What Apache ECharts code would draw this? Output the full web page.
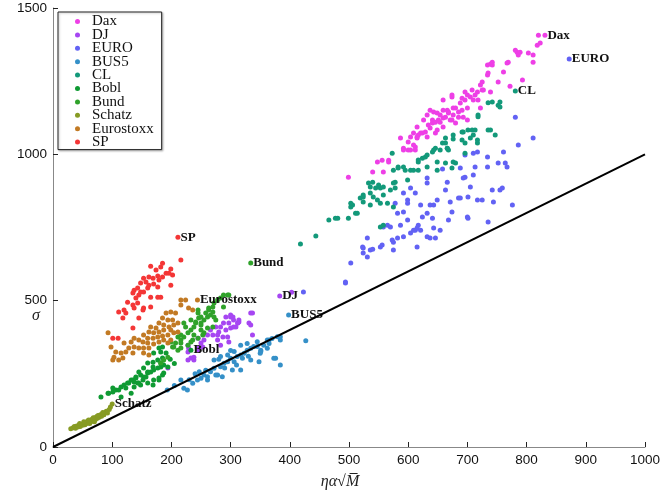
<!DOCTYPE html>
<html><head><meta charset="utf-8">
<script src="https://cdn.jsdelivr.net/npm/echarts@6/dist/echarts.min.js"></script>
<style>html,body{margin:0;padding:0;background:#fff}#c{width:663px;height:496px}</style>
</head><body><div id="c"></div>
<script>
const seriesNames = ['Dax','DJ','EURO','BUS5','CL','Bobl','Bund','Schatz','Eurostoxx','SP'];
const xTicks = [0,100,200,300,400,500,600,700,800,900,1000];
const yTicks = [0,500,1000,1500];
const diagonal = [[0,0],[1000,1000]];

// first point of each series carries the series label
const dax = [[831,1407],[499,922],[540,940],[558,940],[548,974],[556,980],[567,974],[567,980],[592,1021],[612,1025],[612,1015],[592,1015],[600,1015],[600,1042],[609,1032],[615,1059],[621,1073],[617,1066],[624,1073],[609,1073],[632,1059],[604,1059],[615,1056],[587,1056],[604,1015],[629,1076],[634,1100],[641,1107],[637,1151],[643,1145],[649,1141],[654,1134],[641,1117],[646,1110],[651,1117],[659,1151],[663,1127],[668,1145],[671,1117],[676,1134],[637,1090],[649,1083],[659,1093],[646,1073],[654,1110],[659,1124],[666,1151],[668,1141],[674,1117],[676,1158],[680,1107],[685,1127],[680,1158],[685,1145],[691,1151],[693,1127],[700,1117],[688,1175],[696,1186],[700,1203],[705,1196],[710,1186],[659,1186],[674,1196],[691,1192],[700,1158],[722,1158],[674,1203],[696,1213],[708,1220],[713,1203],[718,1186],[717,1213],[725,1220],[722,1237],[739,1213],[725,1247],[727,1220],[734,1271],[735,1278],[752,1247],[772,1233],[793,1254],[761,1281],[734,1305],[742,1305],[739,1309],[742,1315],[767,1312],[769,1315],[784,1349],[786,1339],[781,1356],[789,1349],[803,1346],[811,1339],[811,1315],[818,1373],[823,1380],[820,1407],[626,1117],[632,1134],[615,1093]];
const dj = [[383,516],[403,529],[292,444],[300,444],[305,434],[297,424],[288,424],[283,410],[275,410],[266,400],[280,393],[292,400],[300,407],[309,410],[312,424],[314,427],[261,383],[270,383],[278,383],[287,376],[295,376],[255,366],[250,355],[245,372],[253,342],[246,331],[297,359],[283,348],[278,366],[238,307],[233,304],[228,297],[334,458],[331,424],[194,270],[228,348],[229,338],[337,458],[334,417],[337,383],[314,434],[312,424],[305,410],[300,451],[304,444],[238,297],[228,325],[246,338]];
const euro = [[872,1326],[423,530],[494,560],[494,564],[503,629],[524,680],[536,673],[553,683],[575,673],[531,714],[573,707],[582,799],[592,803],[599,776],[612,741],[617,758],[624,786],[632,799],[637,827],[643,748],[654,741],[663,878],[671,837],[685,851],[696,922],[705,888],[710,929],[713,957],[717,844],[725,844],[735,769],[744,837],[742,878],[759,885],[761,1008],[781,1127],[786,1032],[811,1056],[776,827],[734,957],[734,991],[764,970],[767,957],[696,998],[710,1004],[632,902],[599,844],[621,827],[649,844],[604,885],[612,868],[558,752],[565,758],[582,714],[592,718],[604,731],[615,748],[632,718],[637,714],[524,663],[531,649],[587,758],[668,776],[700,786],[523,683],[540,676],[556,690],[575,700],[570,752],[599,833],[592,868],[621,741],[609,741],[615,683],[641,782],[646,714],[643,827],[666,905],[674,803],[688,851],[693,919],[701,854],[701,782],[752,970],[755,878],[717,1008],[688,953],[658,950],[632,919],[578,833]];
const bus5 = [[398,451],[221,201],[227,195],[236,218],[244,229],[247,257],[255,246],[261,240],[266,257],[272,269],[278,246],[283,274],[289,286],[295,291],[300,303],[306,291],[311,309],[317,314],[323,320],[328,331],[334,337],[339,343],[345,343],[351,331],[356,348],[362,337],[365,366],[370,371],[379,377],[384,377],[384,280],[376,303],[348,291],[334,297],[320,303],[317,263],[303,263],[286,240],[275,246],[261,229],[250,235],[272,297],[283,309],[295,314],[306,326],[328,354],[345,360],[365,354],[427,363],[193,195],[216,229],[317,348],[351,326],[362,366],[373,303],[384,366],[205,210],[230,230],[240,250],[258,262],[290,270],[310,280],[330,310],[350,320],[300,330],[280,300]];
const cl = [[781,1216],[418,694],[444,721],[466,776],[477,782],[499,782],[503,820],[506,827],[519,851],[524,854],[533,902],[536,888],[545,885],[553,885],[558,888],[540,905],[536,868],[541,854],[548,844],[553,833],[524,837],[536,827],[558,861],[565,833],[575,820],[570,878],[578,885],[578,905],[553,752],[558,758],[599,912],[575,946],[583,953],[595,946],[604,946],[609,946],[617,974],[624,987],[629,991],[617,946],[632,957],[649,974],[649,946],[641,1008],[646,1021],[654,1015],[663,1039],[666,1021],[668,1015],[676,1066],[691,1076],[691,1049],[696,1039],[708,1083],[710,1066],[705,1056],[717,1039],[718,1134],[735,1083],[735,1176],[752,1168],[742,1179],[755,1179],[755,1162],[718,1128],[713,1083],[693,1076],[717,1049],[739,1083],[747,1066],[676,1052],[663,1056],[666,1021],[658,1039],[696,1004],[680,970],[674,953],[663,970],[481,782],[503,833],[511,799],[524,861],[550,895],[575,902],[573,1004],[583,957],[592,957],[617,981],[632,998],[643,1015],[676,974],[701,1083],[514,799]];
const bobl = [[233,331],[81,171],[94,184],[101,188],[106,195],[115,205],[111,195],[123,202],[128,219],[132,229],[137,222],[143,219],[140,236],[148,246],[153,239],[160,253],[165,256],[170,263],[177,270],[182,273],[187,280],[148,212],[160,219],[170,229],[179,236],[93,184],[101,202],[120,212],[126,219],[135,229],[137,205],[145,219],[140,239],[157,239],[160,256],[169,273],[160,287],[169,290],[177,297],[182,287],[185,304],[153,270],[145,256],[152,229],[191,321],[182,325],[170,321],[185,342],[179,338],[194,273],[187,253],[169,212],[185,246],[179,229],[132,184],[115,171],[198,300],[205,285]];
const bund = [[334,629],[199,359],[207,355],[216,366],[221,376],[211,376],[228,390],[233,400],[238,410],[224,410],[241,427],[246,441],[250,424],[255,434],[261,444],[266,451],[263,468],[270,478],[258,458],[272,492],[278,502],[283,509],[295,519],[288,478],[236,366],[245,372],[228,348],[216,338],[211,331],[202,342],[245,468],[250,444],[233,434],[221,424],[272,444],[270,410],[275,434],[255,390],[250,400],[261,407],[288,519],[297,519],[263,475],[270,461],[245,458],[250,417],[241,424],[216,383],[238,383],[253,383],[233,359],[216,355],[204,342],[194,307],[187,297],[182,287]];
const schatz = [[100,147],[30,62],[34,66],[36,70],[38,64],[40,72],[42,68],[44,75],[46,70],[48,78],[50,74],[52,80],[54,76],[55,84],[57,80],[58,88],[60,84],[62,90],[63,86],[65,94],[66,88],[68,96],[70,92],[71,100],[72,95],[74,104],[75,98],[77,106],[78,102],[80,110],[82,105],[84,114],[86,110],[88,118],[90,122],[92,116],[95,128],[97,137],[45,80],[52,86],[60,92],[68,100],[76,108],[84,118],[70,86],[62,80]];
const eurostoxx = [[244,502],[216,502],[224,502],[199,461],[207,458],[191,458],[229,475],[236,468],[185,441],[194,434],[202,434],[179,424],[187,417],[196,410],[204,417],[211,424],[165,410],[174,407],[162,393],[170,390],[179,393],[187,400],[199,400],[153,383],[160,372],[169,372],[177,376],[185,379],[194,383],[204,390],[211,393],[137,372],[145,366],[152,359],[160,355],[170,352],[179,359],[187,366],[132,359],[137,342],[145,338],[153,338],[162,338],[120,355],[128,338],[123,325],[135,321],[98,342],[106,325],[115,321],[103,307],[111,297],[101,297],[162,314],[153,321],[194,355],[199,366],[216,485],[93,390],[118,304]];
const sp = [[211,717],[216,639],[165,618],[185,628],[182,615],[174,605],[199,608],[191,594],[202,588],[153,577],[162,581],[169,577],[177,584],[179,571],[185,581],[148,560],[157,564],[162,553],[170,557],[177,547],[160,543],[137,536],[143,543],[148,530],[135,526],[145,519],[153,530],[140,509],[165,512],[177,512],[182,512],[199,553],[196,594],[126,495],[135,485],[143,492],[137,475],[120,468],[111,461],[123,458],[118,441],[145,441],[165,478],[153,475],[152,468],[135,407],[101,372],[110,372]];

const allPoints = [dax, dj, euro, bus5, cl, bobl, bund, schatz, eurostoxx, sp];
const colors = ['#ee3fe6','#a646f2','#6262f4','#3590c8','#13997a','#0f9a33','#2fa22a','#879b24','#c27a24','#f43636'];

const serif = 'Liberation Serif';
const series = seriesNames.map((n, i) => ({
  name: n, type: 'scatter', symbolSize: 5, z: 2,
  itemStyle: { color: colors[i], opacity: 1 },
  emphasis: { disabled: true },
  data: allPoints[i].map((p, j) => j === 0 ? {
    value: p,
    label: { show: true, position: 'right', distance: 0, formatter: n,
      fontFamily: serif, fontSize: 13, fontWeight: 'bold', color: '#111' }
  } : p)
}));
series.push({
  type: 'line', data: diagonal, symbol: 'none', z: 5, silent: true,
  lineStyle: { color: '#000', width: 2 }
});

const chart = echarts.init(document.getElementById('c'), null, { renderer: 'canvas' });
chart.setOption({
  animation: false,
  backgroundColor: '#fff',
  grid: { left: 53, right: 18, top: 8, bottom: 49, containLabel: false },
  legend: {
    data: seriesNames, orient: 'vertical', left: 58, top: 12,
    padding: [2, 8, 0, 17], itemGap: -1.6, itemWidth: 19, itemHeight: 5, icon: 'circle',
    borderColor: '#222', borderWidth: 1, backgroundColor: '#fff',
    shadowColor: 'rgba(0,0,0,0.25)', shadowBlur: 2, shadowOffsetX: 1, shadowOffsetY: 1,
    textStyle: { fontFamily: serif, fontSize: 15, color: '#111' }
  },
  xAxis: {
    type: 'value', min: 0, max: 1000, interval: 100,
    name: 'ηα√M̅', nameLocation: 'middle', nameGap: 27,
    nameTextStyle: { fontFamily: serif, fontStyle: 'italic', fontSize: 16, color: '#222', padding: [0, 18, 0, 0] },
    axisLine: { lineStyle: { color: '#888', width: 1 } },
    axisTick: { inside: true, length: 5, lineStyle: { color: '#222' } },
    axisLabel: { fontFamily: 'Liberation Sans', fontSize: 13.5, color: '#111', margin: 6,
      formatter: v => xTicks.includes(v) ? String(v) : '' },
    splitLine: { show: false }
  },
  yAxis: {
    type: 'value', min: 0, max: 1500, interval: 500,
    axisLine: { show: true, lineStyle: { color: '#888', width: 1 } },
    axisTick: { show: true, inside: true, length: 5, lineStyle: { color: '#222' } },
    axisLabel: { fontFamily: 'Liberation Sans', fontSize: 13.5, color: '#111', margin: 6,
      formatter: v => yTicks.includes(v) ? String(v) : '' },
    splitLine: { show: false }
  },
  graphic: [{
    type: 'text', left: 32, top: 308,
    style: { text: 'σ', fontFamily: serif, fontStyle: 'italic', fontSize: 16, fill: '#222' }
  }],
  series: series
});
</script></body></html>
